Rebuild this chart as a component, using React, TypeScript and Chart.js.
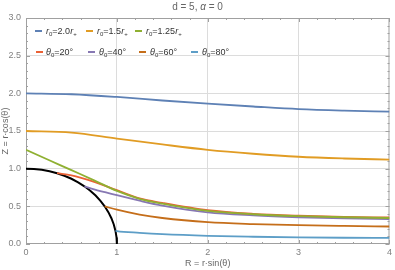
import React, { useEffect, useRef } from "react";
import { Chart, registerables } from "chart.js";

Chart.register(...registerables);

// Unit circle (black boundary), sampled every 5 degrees
const circleX = [0, 0.0872, 0.1736, 0.2588, 0.342, 0.4226, 0.5, 0.5736, 0.6428, 0.7071, 0.766, 0.8192, 0.866, 0.9063, 0.9397, 0.9659, 0.9848, 0.9962, 1];
const circleY = [1, 0.9962, 0.9848, 0.9659, 0.9397, 0.9063, 0.866, 0.8192, 0.766, 0.7071, 0.6428, 0.5736, 0.5, 0.4226, 0.342, 0.2588, 0.1736, 0.0872, 0];

// r0 = 2.0 r+
const r20X = [0, 0.5, 1, 1.5, 2, 2.5, 3, 3.5, 4];
const r20Y = [2.0, 1.988, 1.952, 1.905, 1.863, 1.825, 1.79, 1.77, 1.757];
// r0 = 1.5 r+
const r15X = [0, 0.5, 1, 1.5, 2, 2.5, 3, 3.5, 4];
const r15Y = [1.5, 1.479, 1.4, 1.322, 1.25, 1.198, 1.158, 1.135, 1.12];
// r0 = 1.25 r+
const r125X = [0, 0.25, 0.5, 0.75, 1, 1.25, 1.5, 2, 2.5, 3, 3.5, 4];
const r125Y = [1.25, 1.115, 0.98, 0.845, 0.705, 0.6, 0.535, 0.44, 0.395, 0.37, 0.355, 0.345];
// theta0 = 20
const t20X = [0.342, 0.5, 0.75, 1, 1.25, 1.5, 2, 2.5, 3, 3.5, 4];
const t20Y = [0.94, 0.912, 0.825, 0.715, 0.605, 0.545, 0.448, 0.4, 0.375, 0.36, 0.352];
// theta0 = 40
const t40X = [0.643, 0.75, 1, 1.25, 1.5, 2, 2.5, 3, 3.5, 4];
const t40Y = [0.766, 0.725, 0.648, 0.575, 0.51, 0.42, 0.38, 0.355, 0.34, 0.332];
// theta0 = 60
const t60X = [0.866, 1, 1.25, 1.5, 2, 2.5, 3, 3.5, 4];
const t60Y = [0.5, 0.455, 0.39, 0.345, 0.29, 0.265, 0.25, 0.24, 0.232];
// theta0 = 80
const t80X = [0.985, 1, 1.25, 1.5, 2, 2.5, 3, 3.5, 4];
const t80Y = [0.176, 0.172, 0.148, 0.13, 0.108, 0.096, 0.088, 0.083, 0.08];

const xTicks = [0, 1, 2, 3, 4];
const yTicks = [0, 0.5, 1, 1.5, 2, 2.5, 3];

const seriesColors = ["#5E81B5", "#E19C24", "#8FB032", "#EB6235", "#8778B3", "#C56E1A", "#5D9EC7"];

const zip = (xs: number[], ys: number[]) => xs.map((x, i) => ({ x, y: ys[i] }));

const framePlugin = {
  id: "mmaFrame",
  beforeDatasetsDraw(chart: any) {
    const { ctx, chartArea } = chart;
    const xs = chart.scales.x;
    const ys = chart.scales.y;
    ctx.save();
    ctx.strokeStyle = "#a0a0a0";
    ctx.lineWidth = 1;
    ctx.strokeRect(chartArea.left + 0.5, chartArea.top + 0.5, chartArea.right - chartArea.left - 1, chartArea.bottom - chartArea.top - 1);
    ctx.beginPath();
    for (let i = 0; i <= 20; i++) {
      const v = i * 0.2;
      const px = Math.round(xs.getPixelForValue(v)) + 0.5;
      const len = i % 5 === 0 ? 4 : 2;
      ctx.moveTo(px, chartArea.bottom);
      ctx.lineTo(px, chartArea.bottom - len);
      ctx.moveTo(px, chartArea.top);
      ctx.lineTo(px, chartArea.top + len);
    }
    for (let i = 0; i <= 30; i++) {
      const v = i * 0.1;
      const py = Math.round(ys.getPixelForValue(v)) + 0.5;
      const len = i % 5 === 0 ? 4 : 2;
      ctx.moveTo(chartArea.left, py);
      ctx.lineTo(chartArea.left + len, py);
      ctx.moveTo(chartArea.right, py);
      ctx.lineTo(chartArea.right - len, py);
    }
    ctx.stroke();
    ctx.restore();
  },
};

function ChartView() {
  const ref = useRef<HTMLCanvasElement | null>(null);
  useEffect(() => {
    if (!ref.current) return;
    const mk = (data: any, color: string, w = 1.8) => ({
      data,
      borderColor: color,
      backgroundColor: color,
      borderWidth: w,
      pointRadius: 0,
      showLine: true,
      fill: false,
      cubicInterpolationMode: "monotone" as const,
    });
    const chart = new Chart(ref.current, {
      type: "scatter",
      data: {
        datasets: [
          mk(zip(r20X, r20Y), seriesColors[0]),
          mk(zip(r15X, r15Y), seriesColors[1]),
          mk(zip(r125X, r125Y), seriesColors[2]),
          mk(zip(t20X, t20Y), seriesColors[3]),
          mk(zip(t40X, t40Y), seriesColors[4]),
          mk(zip(t60X, t60Y), seriesColors[5]),
          mk(zip(t80X, t80Y), seriesColors[6]),
          { ...mk(zip(circleX, circleY), "#000000", 2), cubicInterpolationMode: "default" as const, tension: 0 },
        ],
      },
      options: {
        animation: false,
        responsive: false,
        maintainAspectRatio: false,
        layout: { padding: { top: 18, right: 4, left: 0, bottom: 0 } },
        plugins: { legend: { display: false }, title: { display: false }, tooltip: { enabled: false } },
        scales: {
          x: {
            type: "linear",
            min: 0,
            max: 4,
            afterFit: (s: any) => { s.height = 26; },
            afterBuildTicks: (s: any) => { s.ticks = xTicks.map((v) => ({ value: v })); },
            ticks: { padding: 3, color: "#808080", font: { family: "Liberation Sans", size: 9 }, callback: (v: any) => String(v) },
            grid: { drawTicks: false, color: (c: any) => (c.tick && (c.tick.value === 0 || c.tick.value === 4) ? "rgba(0,0,0,0)" : "#dcdcdc") },
            border: { display: false },
            title: { display: true, text: "R = r·sin(θ)", color: "#666", font: { family: "Liberation Sans", size: 9 }, padding: { top: 0, bottom: 1 } },
          },
          y: {
            type: "linear",
            min: 0,
            max: 3,
            afterFit: (s: any) => { s.width = 26; },
            afterBuildTicks: (s: any) => { s.ticks = yTicks.map((v) => ({ value: v })); },
            ticks: { padding: 5, color: "#808080", font: { family: "Liberation Sans", size: 9 }, callback: (v: any) => Number(v).toFixed(1) },
            grid: { drawTicks: false, color: (c: any) => (c.tick && (c.tick.value === 0 || c.tick.value === 3) ? "rgba(0,0,0,0)" : "#dcdcdc") },
            border: { display: false },
            title: { display: true, text: "Z = r·cos(θ)", color: "#666", font: { family: "Liberation Sans", size: 9 }, padding: { top: 0, bottom: 0 } },
          },
        },
      },
      plugins: [framePlugin],
    });
    return () => chart.destroy();
  }, []);
  return <canvas ref={ref} width={395} height={270} style={{ position: "absolute", left: 0, top: 0, width: 395, height: 270 }} />;
}

const legendFont: React.CSSProperties = { fontFamily: "Liberation Sans, Arial, sans-serif", fontSize: 9, color: "#333", position: "absolute", whiteSpace: "nowrap", lineHeight: "10px" };
const subStyle: React.CSSProperties = { fontSize: 6, verticalAlign: "-2px", lineHeight: 0 };

function Swatch({ x, y, color }: { x: number; y: number; color: string }) {
  return <div style={{ position: "absolute", left: x, top: y - 1, width: 7, height: 2, background: color }} />;
}

function RLabel({ x, y, val }: { x: number; y: number; val: string }) {
  return (
    <div style={{ ...legendFont, left: x, top: y - 5 }}>
      <i>r</i><sub style={subStyle}>0</sub>={val}<i>r</i><sub style={subStyle}>+</sub>
    </div>
  );
}

function TLabel({ x, y, val }: { x: number; y: number; val: string }) {
  return (
    <div style={{ ...legendFont, left: x, top: y - 5 }}>
      <i>θ</i><sub style={subStyle}>0</sub>={val}°
    </div>
  );
}

export default function App() {
  return (
    <div style={{ position: "fixed", left: 0, top: 0, width: 395, height: 270, background: "#fff", overflow: "hidden" }}>
      <ChartView />
      <div style={{ position: "absolute", left: 0, width: 395, top: 1, textAlign: "center", fontFamily: "Liberation Sans, Arial, sans-serif", fontSize: 10, color: "#666" }}>
        d = 5, <i>α</i> = 0
      </div>
      <Swatch x={35} y={31} color={seriesColors[0]} />
      <RLabel x={46} y={31} val="2.0" />
      <Swatch x={86} y={31} color={seriesColors[1]} />
      <RLabel x={97} y={31} val="1.5" />
      <Swatch x={135} y={31} color={seriesColors[2]} />
      <RLabel x={146} y={31} val="1.25" />
      <Swatch x={36} y={52} color={seriesColors[3]} />
      <TLabel x={46} y={52} val="20" />
      <Swatch x={88} y={52} color={seriesColors[4]} />
      <TLabel x={99} y={52} val="40" />
      <Swatch x={139} y={52} color={seriesColors[5]} />
      <TLabel x={150} y={52} val="60" />
      <Swatch x={191} y={52} color={seriesColors[6]} />
      <TLabel x={202} y={52} val="80" />
    </div>
  );
}
